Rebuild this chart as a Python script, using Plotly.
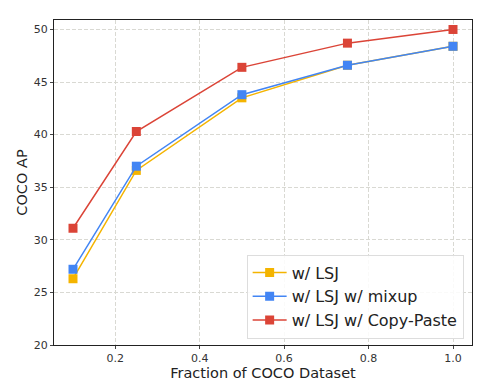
import plotly.graph_objects as go

fractions = [0.1, 0.25, 0.5, 0.75, 1.0]
lsj = [26.3, 36.6, 43.5, 46.6, 48.4]
lsj_mixup = [27.2, 37.0, 43.8, 46.6, 48.4]
lsj_copypaste = [31.1, 40.3, 46.4, 48.7, 50.0]
names = ["w/ LSJ", "w/ LSJ w/ mixup", "w/ LSJ w/ Copy-Paste"]
colors = ["#F4B400", "#4285F4", "#DB4437"]
x_ticks = [0.2, 0.4, 0.6, 0.8, 1.0]
y_ticks = [20, 25, 30, 35, 40, 45, 50]

fig = go.Figure()
for name, ys, c in zip(names, [lsj, lsj_mixup, lsj_copypaste], colors):
    fig.add_trace(go.Scatter(
        x=fractions, y=ys, name=name, mode="lines+markers",
        line=dict(color=c, width=1.5),
        marker=dict(symbol="square", size=9, color=c),
    ))

axis_common = dict(
    showline=True, mirror=True, linecolor="#222", linewidth=1.2,
    showgrid=True, gridcolor="#d9d9d3", griddash="4px,2px", gridwidth=1,
    zeroline=False, ticks="outside", ticklen=3, tickcolor="#444",
    tickfont=dict(family="DejaVu Sans", size=11, color="#333"),
    automargin=False,
)
fig.update_xaxes(range=[0.055, 1.045], tickvals=x_ticks,
                 ticktext=[f"{v:.1f}" for v in x_ticks],
                 title=dict(text="Fraction of COCO Dataset",
                            font=dict(family="DejaVu Sans", size=14.5, color="#222"),
                            standoff=1),
                 **axis_common)
fig.update_yaxes(range=[20, 50.9], tickvals=y_ticks,
                 title=dict(text="COCO AP",
                            font=dict(family="DejaVu Sans", size=14.5, color="#222"),
                            standoff=2),
                 **axis_common)

fig.update_layout(
    width=484, height=381,
    margin=dict(l=46, r=20, t=12, b=44),
    paper_bgcolor="white", plot_bgcolor="white",
    legend=dict(x=0.98, y=0.02, xanchor="right", yanchor="bottom",
                bgcolor="rgba(255,255,255,0.85)", bordercolor="#ddd", borderwidth=1,
                font=dict(family="DejaVu Sans", size=16, color="#222"),
                itemwidth=34, tracegroupgap=0),
    showlegend=True,
)
fig.write_html("out.html")
